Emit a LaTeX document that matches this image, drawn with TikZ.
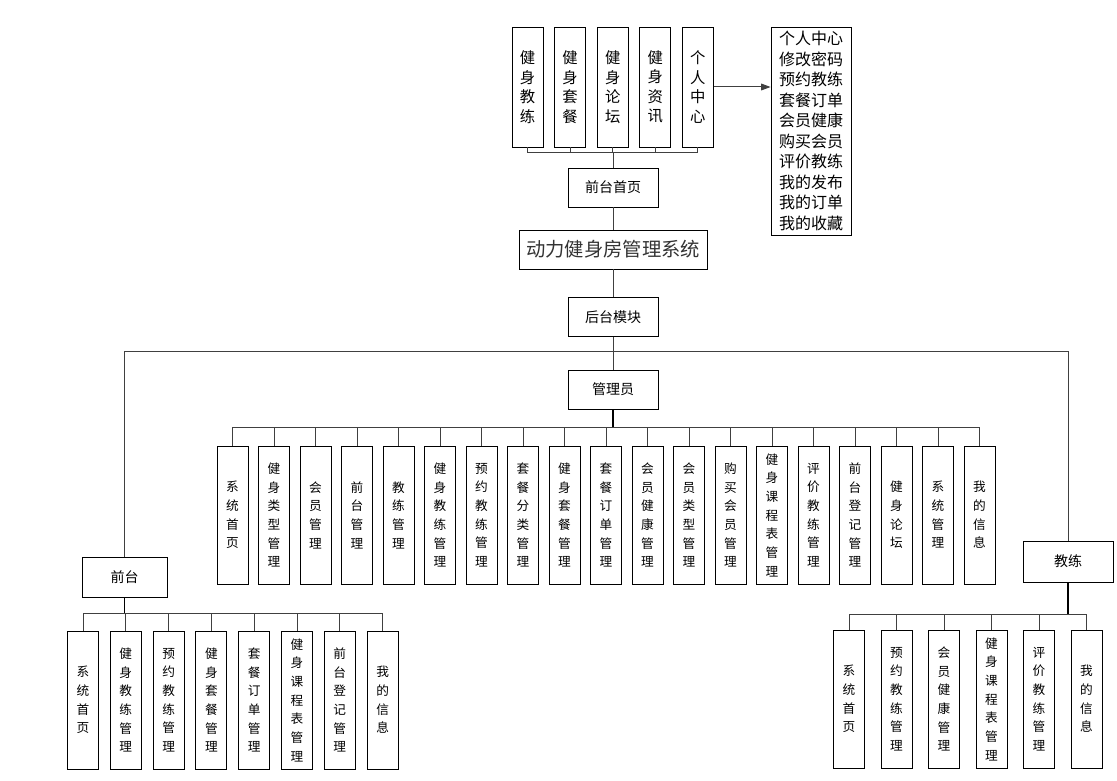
\documentclass[tikz,border=0pt]{standalone}
\usepackage{fontspec}
\newfontfamily\cjk{Noto Sans CJK SC}
\usetikzlibrary{arrows.meta}

\begin{document}
\begin{tikzpicture}[x=0.75pt, y=-0.75pt, >={Triangle[length=7pt,width=5pt]},
    box/.style={draw, line width=0.65pt, inner sep=0pt, align=center},
    vbox/.style={box, minimum width=23.25pt, minimum height=103.5pt, font=\cjk\fontsize{9.5}{14}\selectfont},
    topbox/.style={box, minimum width=23.25pt, minimum height=90pt, font=\cjk\fontsize{11.5}{14.6}\selectfont},
    hbox/.style={box, minimum width=67.5pt, minimum height=29.25pt, font=\cjk\fontsize{10.5}{12}\selectfont},
    link/.style={draw=black!75, line width=0.75pt}]
    \useasboundingbox (0,0) rectangle (1117,781);

    % top level
    \node[box, minimum width=141pt, minimum height=29.25pt, font=\cjk\fontsize{14.5}{16}\selectfont, text=black!80] (sys) at (613,249.5) {动力健身房管理系统};
    \node[hbox] (home) at (613,187.5) {前台首页};
    \node[hbox] (back) at (613,317) {后台模块};
    \node[hbox] (admin) at (613,389.5) {管理员};
    \node[hbox, minimum width=63.75pt, minimum height=30pt] (desk) at (124.5,577) {前台};
    \node[hbox, minimum height=30.75pt] (coach) at (1068,561.5) {教练};

    % front page modules
    \foreach \t [count=\i] in {健\\身\\教\\练, 健\\身\\套\\餐, 健\\身\\论\\坛, 健\\身\\资\\讯, 个\\人\\中\\心}
        \node[topbox] (t\i) at ({527.5+42.6*(\i-1)},87) {\t};
    \node[box, minimum width=60pt, minimum height=156pt, font=\cjk\fontsize{12}{15.4}\selectfont] (menu) at (811,131)
        {个人中心\\修改密码\\预约教练\\套餐订单\\会员健康\\购买会员\\评价教练\\我的发布\\我的订单\\我的收藏};

    % admin modules
    \foreach \t [count=\i] in {系\\统\\首\\页, 健\\身\\类\\型\\管\\理, 会\\员\\管\\理, 前\\台\\管\\理,
        教\\练\\管\\理, 健\\身\\教\\练\\管\\理, 预\\约\\教\\练\\管\\理, 套\\餐\\分\\类\\管\\理,
        健\\身\\套\\餐\\管\\理, 套\\餐\\订\\单\\管\\理, 会\\员\\健\\康\\管\\理, 会\\员\\类\\型\\管\\理,
        购\\买\\会\\员\\管\\理, 健\\身\\课\\程\\表\\管\\理, 评\\价\\教\\练\\管\\理, 前\\台\\登\\记\\管\\理,
        健\\身\\论\\坛, 系\\统\\管\\理, 我\\的\\信\\息}
        \node[vbox] (a\i) at ({232.5+41.5*(\i-1)},515) {\t};

    % front desk modules
    \foreach \t [count=\i] in {系\\统\\首\\页, 健\\身\\教\\练\\管\\理, 预\\约\\教\\练\\管\\理, 健\\身\\套\\餐\\管\\理,
        套\\餐\\订\\单\\管\\理, 健\\身\\课\\程\\表\\管\\理, 前\\台\\登\\记\\管\\理, 我\\的\\信\\息}
        \node[vbox] (d\i) at ({83+42.8*(\i-1)},700) {\t};

    % coach modules
    \foreach \t [count=\i] in {系\\统\\首\\页, 预\\约\\教\\练\\管\\理, 会\\员\\健\\康\\管\\理,
        健\\身\\课\\程\\表\\管\\理, 评\\价\\教\\练\\管\\理, 我\\的\\信\\息}
        \node[vbox] (c\i) at ({849+47.5*(\i-1)},699) {\t};

    % connectors
    \path (home.north) ++(0,-15) coordinate (tbus);
    \draw[link] (home) -- (tbus);
    \foreach \i in {1,...,5}
        \draw[link] (tbus) -| (t\i.south);
    \draw[link, ->] (t5) -- (t5 -| menu.west);
    \draw[link] (home) -- (sys);
    \draw[link] (sys) -- (back);
    \draw[link] (back) -- (admin);

    \path (back.south) ++(0,15) coordinate (split);
    \draw[link] (desk.north) |- (split) -| (coach.north);

    \path (admin.south) ++(0,18) coordinate (abus);
    \draw[link, line width=1.1pt, draw=black] (admin) -- (abus);
    \foreach \i in {1,...,19}
        \draw[link] (abus) -| (a\i.north);

    \path (desk.south) ++(0,16) coordinate (dbus);
    \draw[link, line width=1.1pt, draw=black] (desk) -- (dbus);
    \foreach \i in {1,...,8}
        \draw[link] (dbus) -| (d\i.north);

    \path (coach.south) ++(0,32) coordinate (cbus);
    \draw[link, line width=1.1pt, draw=black] (coach) -- (cbus);
    \foreach \i in {1,...,6}
        \draw[link] (cbus) -| (c\i.north);
\end{tikzpicture}
\end{document}
